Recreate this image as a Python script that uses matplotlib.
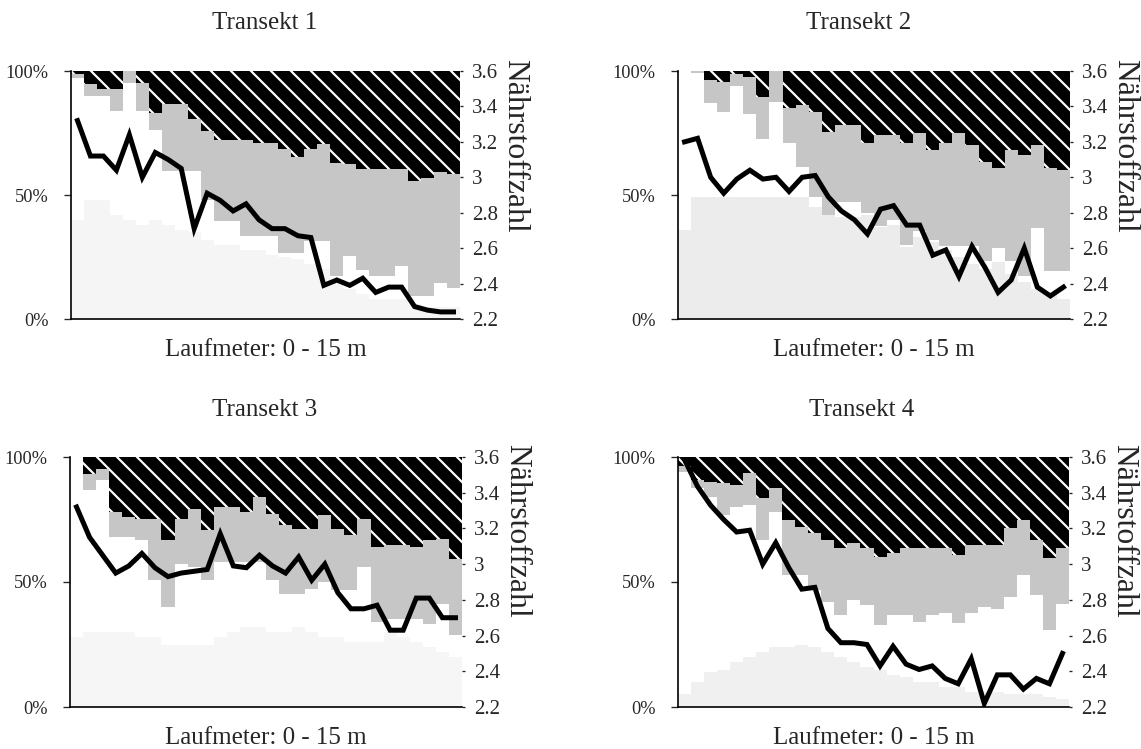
import numpy as np
import matplotlib
matplotlib.use("Agg")
import matplotlib.pyplot as plt

# Vegetationsanteile entlang der Transekte (30 Abschnitte a 0.5 m)
# Grenzen in %: Oberkante hell gepunktet, Unterkante grau, Unterkante schwarz
hell1 = [40, 48, 48, 42, 40, 38, 40, 38, 36, 35, 32, 30, 30, 28, 28, 26, 25, 24, 22, 20, 15, 12, 10, 8, 8, 8, 6, 5, 5, 5]
grau1 = [97, 89.9, 89.9, 83.8, 95.3, 83.8, 76.4, 59.6, 59.6, 59.6, 48, 39.4, 39.4, 33.4, 33.4, 33.4, 26.6, 26.6, 31.4, 31.4,
         17.2, 25.3, 19.9, 17.2, 17.2, 21.3, 9.2, 9.2, 14.5, 12.5]
schwarz1 = [98.7, 94.6, 92.9, 92.9, 100, 95.3, 83.2, 86.5, 86.5, 80.5, 75.8, 72.1, 72.1, 72.1, 71.1, 71.1, 68.7, 65.4, 68.7, 70.4,
            63.0, 62.3, 60.3, 60.3, 60.3, 60.3, 55.6, 56.9, 59.2, 58.3]
nz1 = [3.32, 3.12, 3.12, 3.04, 3.24, 3.00, 3.14, 3.10, 3.05, 2.71, 2.91, 2.87, 2.81, 2.85, 2.76, 2.71, 2.71, 2.67, 2.66, 2.39,
       2.42, 2.39, 2.43, 2.35, 2.38, 2.38, 2.27, 2.25, 2.24, 2.24]

hell2 = [36, 49, 49, 49, 49, 49, 49, 49, 49, 49, 45, 42, 41, 41, 42, 37, 38, 29, 33, 31, 28, 25, 22, 20, 23, 18, 15, 12, 10, 8]
grau2 = [100, 99, 86.9, 83.5, 94, 82.8, 72.5, 87.5, 70.8, 61.4, 49.3, 42, 47.3, 47.3, 42.6, 37.3, 39.9, 29.9, 35.3, 31.9,
         29.4, 29.4, 29.4, 23.2, 28.6, 23.2, 17.2, 36.6, 19.2, 19.2]
schwarz2 = [100, 100, 96.2, 95.6, 98.7, 97.6, 89.7, 100, 84.9, 86.2, 83.5, 75.5, 78.2, 78.2, 70.8, 74.1, 74.1, 70.8, 74.8, 68.1,
            70.8, 74.8, 70.1, 63.4, 60.7, 68.1, 66.0, 70.1, 60.7, 60.0]
nz2 = [3.20, 3.22, 3.00, 2.91, 2.99, 3.04, 2.99, 3.00, 2.92, 3.00, 3.01, 2.89, 2.81, 2.76, 2.68, 2.82, 2.84, 2.73, 2.73, 2.56,
       2.59, 2.44, 2.61, 2.49, 2.35, 2.42, 2.60, 2.38, 2.33, 2.38]

hell3 = [28, 30, 30, 30, 30, 28, 28, 25, 25, 25, 25, 28, 30, 32, 32, 30, 30, 32, 30, 28, 28, 26, 26, 26, 30, 28, 26, 24, 22, 20]
grau3 = [100, 86.7, 90.7, 68, 68, 66.7, 50.7, 40, 57.3, 56, 50.7, 58, 58, 58, 58, 50.7, 45.3, 45.3, 47.3, 50,
         46.7, 46.7, 56, 34, 35.3, 35.3, 35.3, 33.3, 41.3, 28.7]
schwarz3 = [100, 93.3, 95.3, 78, 76, 75.3, 75.3, 66.7, 75.3, 79.3, 70.7, 80, 80, 78, 84, 77.3, 72.7, 71.3, 71.3, 76.7,
            71.3, 68.7, 75.3, 64, 64.7, 64.7, 64, 66.7, 67.3, 59.3]
nz3 = [3.32, 3.15, 3.05, 2.95, 2.99, 3.06, 2.98, 2.93, 2.95, 2.96, 2.97, 3.17, 2.99, 2.98, 3.05, 2.99, 2.95, 3.04, 2.91, 3.00,
       2.84, 2.75, 2.75, 2.77, 2.63, 2.63, 2.81, 2.81, 2.70, 2.70]

hell4 = [5, 10, 14, 15, 18, 20, 22, 24, 24, 25, 24, 22, 20, 18, 16, 15, 13, 12, 10, 10, 8, 8, 6, 6, 6, 5, 5, 5, 4, 3]
grau4 = [94, 87.6, 84, 76.9, 80.2, 80.9, 66.8, 78.2, 52.8, 52.8, 46.8, 42.1, 36.8, 42.8, 40.8, 32.9, 36.9, 36.9, 34.2, 36.9,
         37.6, 33.7, 37.6, 40.1, 39.4, 44.1, 52.8, 44.8, 30.7, 41.4]
schwarz4 = [96.3, 90.9, 90.2, 89.6, 88.9, 93.6, 83.6, 87.6, 74.9, 72.2, 69.5, 66.8, 63.5, 65.5, 63.5, 60.2, 61.5, 63.5, 63.5, 63.5,
            63.5, 60.8, 64.8, 64.8, 64.8, 71.5, 74.9, 66.8, 59.5, 63.5]
nz4 = [3.585, 3.435, 3.33, 3.25, 3.18, 3.19, 3.00, 3.12, 2.98, 2.86, 2.87, 2.64, 2.56, 2.56, 2.55, 2.43, 2.54, 2.44, 2.41, 2.43,
       2.36, 2.33, 2.47, 2.22, 2.38, 2.38, 2.30, 2.36, 2.33, 2.50]

titel = ['Transekt 1', 'Transekt 2', 'Transekt 3', 'Transekt 4']
links_ticks = [0, 50, 100]
links_labels = ['0%', '50%', '100%']
rechts_ticks = [2.2, 2.4, 2.6, 2.8, 3.0, 3.2, 3.4, 3.6]
rechts_labels = ['2.2', '2.4', '2.6', '2.8', '3', '3.2', '3.4', '3.6']

daten = [(hell1, grau1, schwarz1, nz1), (hell2, grau2, schwarz2, nz2),
         (hell3, grau3, schwarz3, nz3), (hell4, grau4, schwarz4, nz4)]

plt.rcParams['font.family'] = ['Liberation Serif', 'DejaVu Serif']
plt.rcParams['hatch.linewidth'] = 1.3
plt.rcParams['hatch.color'] = 'white'

DPI = 120
W, H = 1141, 749
fig = plt.figure(figsize=(W / DPI, H / DPI), dpi=DPI)

# Achsenrahmen in Pixeln (links, oben, rechts, unten)
rahmen = [(71, 71, 460, 319), (678, 71, 1070, 319), (70, 457, 462, 707), (678, 457, 1069, 707)]
titel_pos = [(265, 23), (859, 23), (265, 410), (862, 410)]
# Punktraster im Druck unterschiedlich kraeftig
hell_farbe = ['#f5f5f5', '#ececec', '#f6f6f6', '#f0f0f0']

TXT = '#262626'

for k in range(4):
    l, o, r, u = rahmen[k]
    ax = fig.add_axes([l / W, 1 - u / H, (r - l) / W, (u - o) / H])
    hell, grau, schwarz, nz = daten[k]
    n = len(hell)
    kanten = np.arange(n + 1) * 0.5
    mitte = kanten[:-1] + 0.25
    hell_s = np.append(hell, hell[-1])
    grau_s = np.append(grau, grau[-1])
    schwarz_s = np.append(schwarz, schwarz[-1])

    ax.fill_between(kanten, 0, hell_s, step='post', color=hell_farbe[k], linewidth=0)
    ax.fill_between(kanten, grau_s, schwarz_s, step='post', color='#c6c6c6', linewidth=0)
    ax.fill_between(kanten, schwarz_s, 100, step='post', facecolor='black', edgecolor='white',
                    hatch='\\\\', linewidth=0)

    ax.set_xlim(0, 15)
    ax.set_ylim(0, 100)
    ax.set_xticks([])
    ax.set_yticks(links_ticks)
    ax.set_yticklabels(links_labels)
    ax.tick_params(axis='y', length=4.5, width=0.8, pad=9, labelsize=11, colors=TXT)
    for s in ['top', 'right']:
        ax.spines[s].set_visible(False)
    ax.spines['left'].set_linewidth(1.0)
    ax.spines['bottom'].set_linewidth(1.0)
    ax.set_xlabel('Laufmeter: 0 - 15 m', fontsize=15, color=TXT, labelpad=12)

    ax2 = ax.twinx()
    ax2.plot(mitte, nz, color='black', linewidth=3.0, solid_joinstyle='miter')
    ax2.set_ylim(2.2, 3.6)
    ax2.set_yticks(rechts_ticks)
    ax2.set_yticklabels(rechts_labels)
    ax2.tick_params(axis='y', length=2, width=0.8, pad=5, labelsize=12.5, colors=TXT)
    for s in ['top', 'right', 'left', 'bottom']:
        ax2.spines[s].set_visible(False)
    ax2.text(1.14, 1.05, 'Nährstoffzahl', rotation=270, ha='center', va='top',
             fontsize=19, color=TXT, transform=ax.transAxes)

    tx, ty = titel_pos[k]
    fig.text(tx / W, 1 - ty / H, titel[k], ha='center', va='center', fontsize=15, color=TXT)

fig.savefig('out.png', dpi=DPI)
